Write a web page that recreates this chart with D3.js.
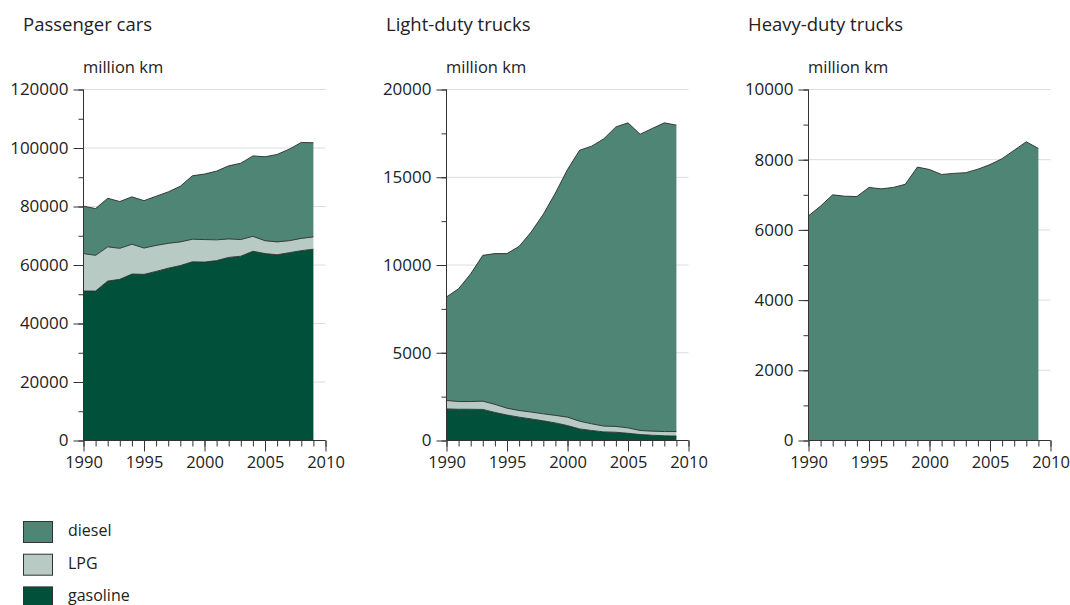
<!DOCTYPE html>
<html>
<head>
<meta charset="utf-8">
<script src="https://cdn.jsdelivr.net/npm/d3@7"></script>
<style>
  body { margin: 0; background: #fff; }
  svg { font-family: 'Open Sans', sans-serif; }
</style>
</head>
<body>
<svg width="1070" height="605"></svg>
<script>
const svg = d3.select('svg');

// data (million km)
const years = d3.range(1990, 2010);
const fuels = ['gasoline', 'LPG', 'diesel'];

const carsGasoline = [51100, 51100, 54500, 55100, 56900, 56800, 57800, 58900, 59800, 61100,
                      61000, 61500, 62600, 63000, 64700, 63900, 63500, 64200, 64900, 65400];
const carsLPG      = [12800, 12200, 11700, 10600, 10200, 9000, 8900, 8500, 8100, 7700,
                      7700, 7100, 6300, 5700, 5100, 4400, 4400, 4100, 4200, 4200];
const carsDiesel   = [16200, 16000, 16600, 16000, 16200, 16200, 16800, 17600, 19000, 21700,
                      22400, 23500, 25000, 26100, 27500, 28700, 29900, 31300, 32800, 32200];

const lightGasoline = [1800, 1780, 1780, 1770, 1600, 1450, 1330, 1230, 1120, 1000,
                       850, 660, 570, 490, 470, 410, 340, 300, 270, 250];
const lightLPG      = [480, 440, 440, 470, 460, 390, 380, 390, 400, 430,
                       480, 440, 380, 330, 330, 310, 230, 230, 240, 260];
const lightDiesel   = [5900, 6430, 7280, 8310, 8590, 8810, 9350, 10260, 11370, 12670,
                       14110, 15440, 15820, 16370, 17070, 17380, 16880, 17250, 17590, 17460];

const heavyGasoline = years.map(() => 0);
const heavyLPG      = years.map(() => 0);
const heavyDiesel   = [6400, 6680, 7000, 6960, 6950, 7210, 7170, 7210, 7300, 7790,
                       7720, 7580, 7610, 7630, 7730, 7860, 8030, 8270, 8510, 8320];

const colors = { diesel: '#4f8575', LPG: '#b7cbc4', gasoline: '#00503a' };
const legendOrder = ['diesel', 'LPG', 'gasoline'];

const panels = [
  { title: 'Passenger cars', left: 83, max: 120000, step: 20000,
    series: { gasoline: carsGasoline, LPG: carsLPG, diesel: carsDiesel } },
  { title: 'Light-duty trucks', left: 446, max: 20000, step: 5000,
    series: { gasoline: lightGasoline, LPG: lightLPG, diesel: lightDiesel } },
  { title: 'Heavy-duty trucks', left: 808, max: 10000, step: 2000,
    series: { gasoline: heavyGasoline, LPG: heavyLPG, diesel: heavyDiesel } }
];

const yTop = 89.5, yBottom = 440.5, plotW = 242;

panels.forEach(p => {
  const g = svg.append('g').attr('transform', `translate(${p.left + 0.5},0)`);

  const x = d3.scaleLinear().domain([1990, 2010]).range([0, plotW]);
  const y = d3.scaleLinear().domain([0, p.max]).range([yBottom, yTop]);

  const rows = years.map((yr, i) => ({
    year: yr,
    gasoline: p.series.gasoline[i],
    LPG: p.series.LPG[i],
    diesel: p.series.diesel[i]
  }));
  const stacked = d3.stack().keys(fuels)(rows);

  // grid lines behind the areas
  const majors = d3.range(0, p.max + 1, p.step);
  g.append('g').selectAll('line').data(majors).enter().append('line')
    .attr('x1', 0).attr('x2', plotW)
    .attr('y1', d => y(d)).attr('y2', d => y(d))
    .attr('stroke', '#dcdcdc').attr('stroke-width', 1);

  const area = d3.area()
    .x(d => x(d.data.year))
    .y0(d => y(d[0]))
    .y1(d => y(d[1]));
  const topLine = d3.line()
    .x(d => x(d.data.year))
    .y(d => y(d[1]));

  const shown = stacked.filter(layer => d3.max(layer, d => d[1] - d[0]) > 0);
  shown.forEach(layer => {
    g.append('path').datum(layer)
      .attr('d', area)
      .attr('fill', colors[layer.key]);
  });
  shown.forEach(layer => {
    g.append('path').datum(layer)
      .attr('d', topLine)
      .attr('fill', 'none')
      .attr('stroke', '#2b2b2b')
      .attr('stroke-width', 0.9);
  });

  // y axis: major labelled ticks + minor ticks
  const yAxis = d3.axisLeft(y).tickValues(majors).tickSize(10).tickPadding(5)
    .tickFormat(d3.format('d'));
  const yMinor = d3.axisLeft(y).tickValues(d3.range(0, p.max + 1, p.step / 2))
    .tickSize(5).tickFormat('');
  g.append('g').call(yMinor).call(a => a.select('.domain').remove());
  const yG = g.append('g').call(yAxis);
  yG.select('.domain').attr('d', `M0,${yBottom}V${yTop}`);

  // x axis
  const xAxis = d3.axisBottom(x).tickValues(d3.range(1990, 2011, 5)).tickSize(11)
    .tickPadding(5).tickFormat(d3.format('d'));
  const xMinor = d3.axisBottom(x).tickValues(d3.range(1990, 2011)).tickSize(6).tickFormat('');
  const xG = g.append('g').attr('transform', `translate(0,${yBottom})`).call(xAxis);
  xG.select('.domain').attr('d', `M0,0H${plotW}`);
  g.append('g').attr('transform', `translate(0,${yBottom})`).call(xMinor)
    .call(a => a.select('.domain').remove());

  g.selectAll('.tick line').attr('stroke', '#333');
  g.selectAll('.domain').attr('stroke', '#333');
  yG.selectAll('.tick text').attr('fill', '#222').style('font-size', '17px')
    .style('font-family', "'Open Sans', sans-serif");
  xG.selectAll('.tick text').attr('fill', '#222').style('font-size', '16.5px')
    .style('font-family', "'Open Sans', sans-serif");

  svg.append('text')
    .attr('x', p.left - 60).attr('y', 31)
    .attr('fill', '#222').style('font-size', '18.5px')
    .text(p.title);
  svg.append('text')
    .attr('x', p.left).attr('y', 73)
    .attr('fill', '#222').style('font-size', '16.5px')
    .text('million km');
});

// legend
const legend = svg.append('g').attr('transform', 'translate(23,521)');
legendOrder.forEach((k, i) => {
  const row = legend.append('g').attr('transform', `translate(0,${i * 32.7})`);
  row.append('rect').attr('x', 0.5).attr('y', 0.5).attr('width', 29).attr('height', 21)
    .attr('fill', colors[k]).attr('stroke', '#333').attr('stroke-width', 1);
  row.append('text').attr('x', 45).attr('y', 15)
    .attr('fill', '#222').style('font-size', '16px').text(k);
});
</script>
</body>
</html>
